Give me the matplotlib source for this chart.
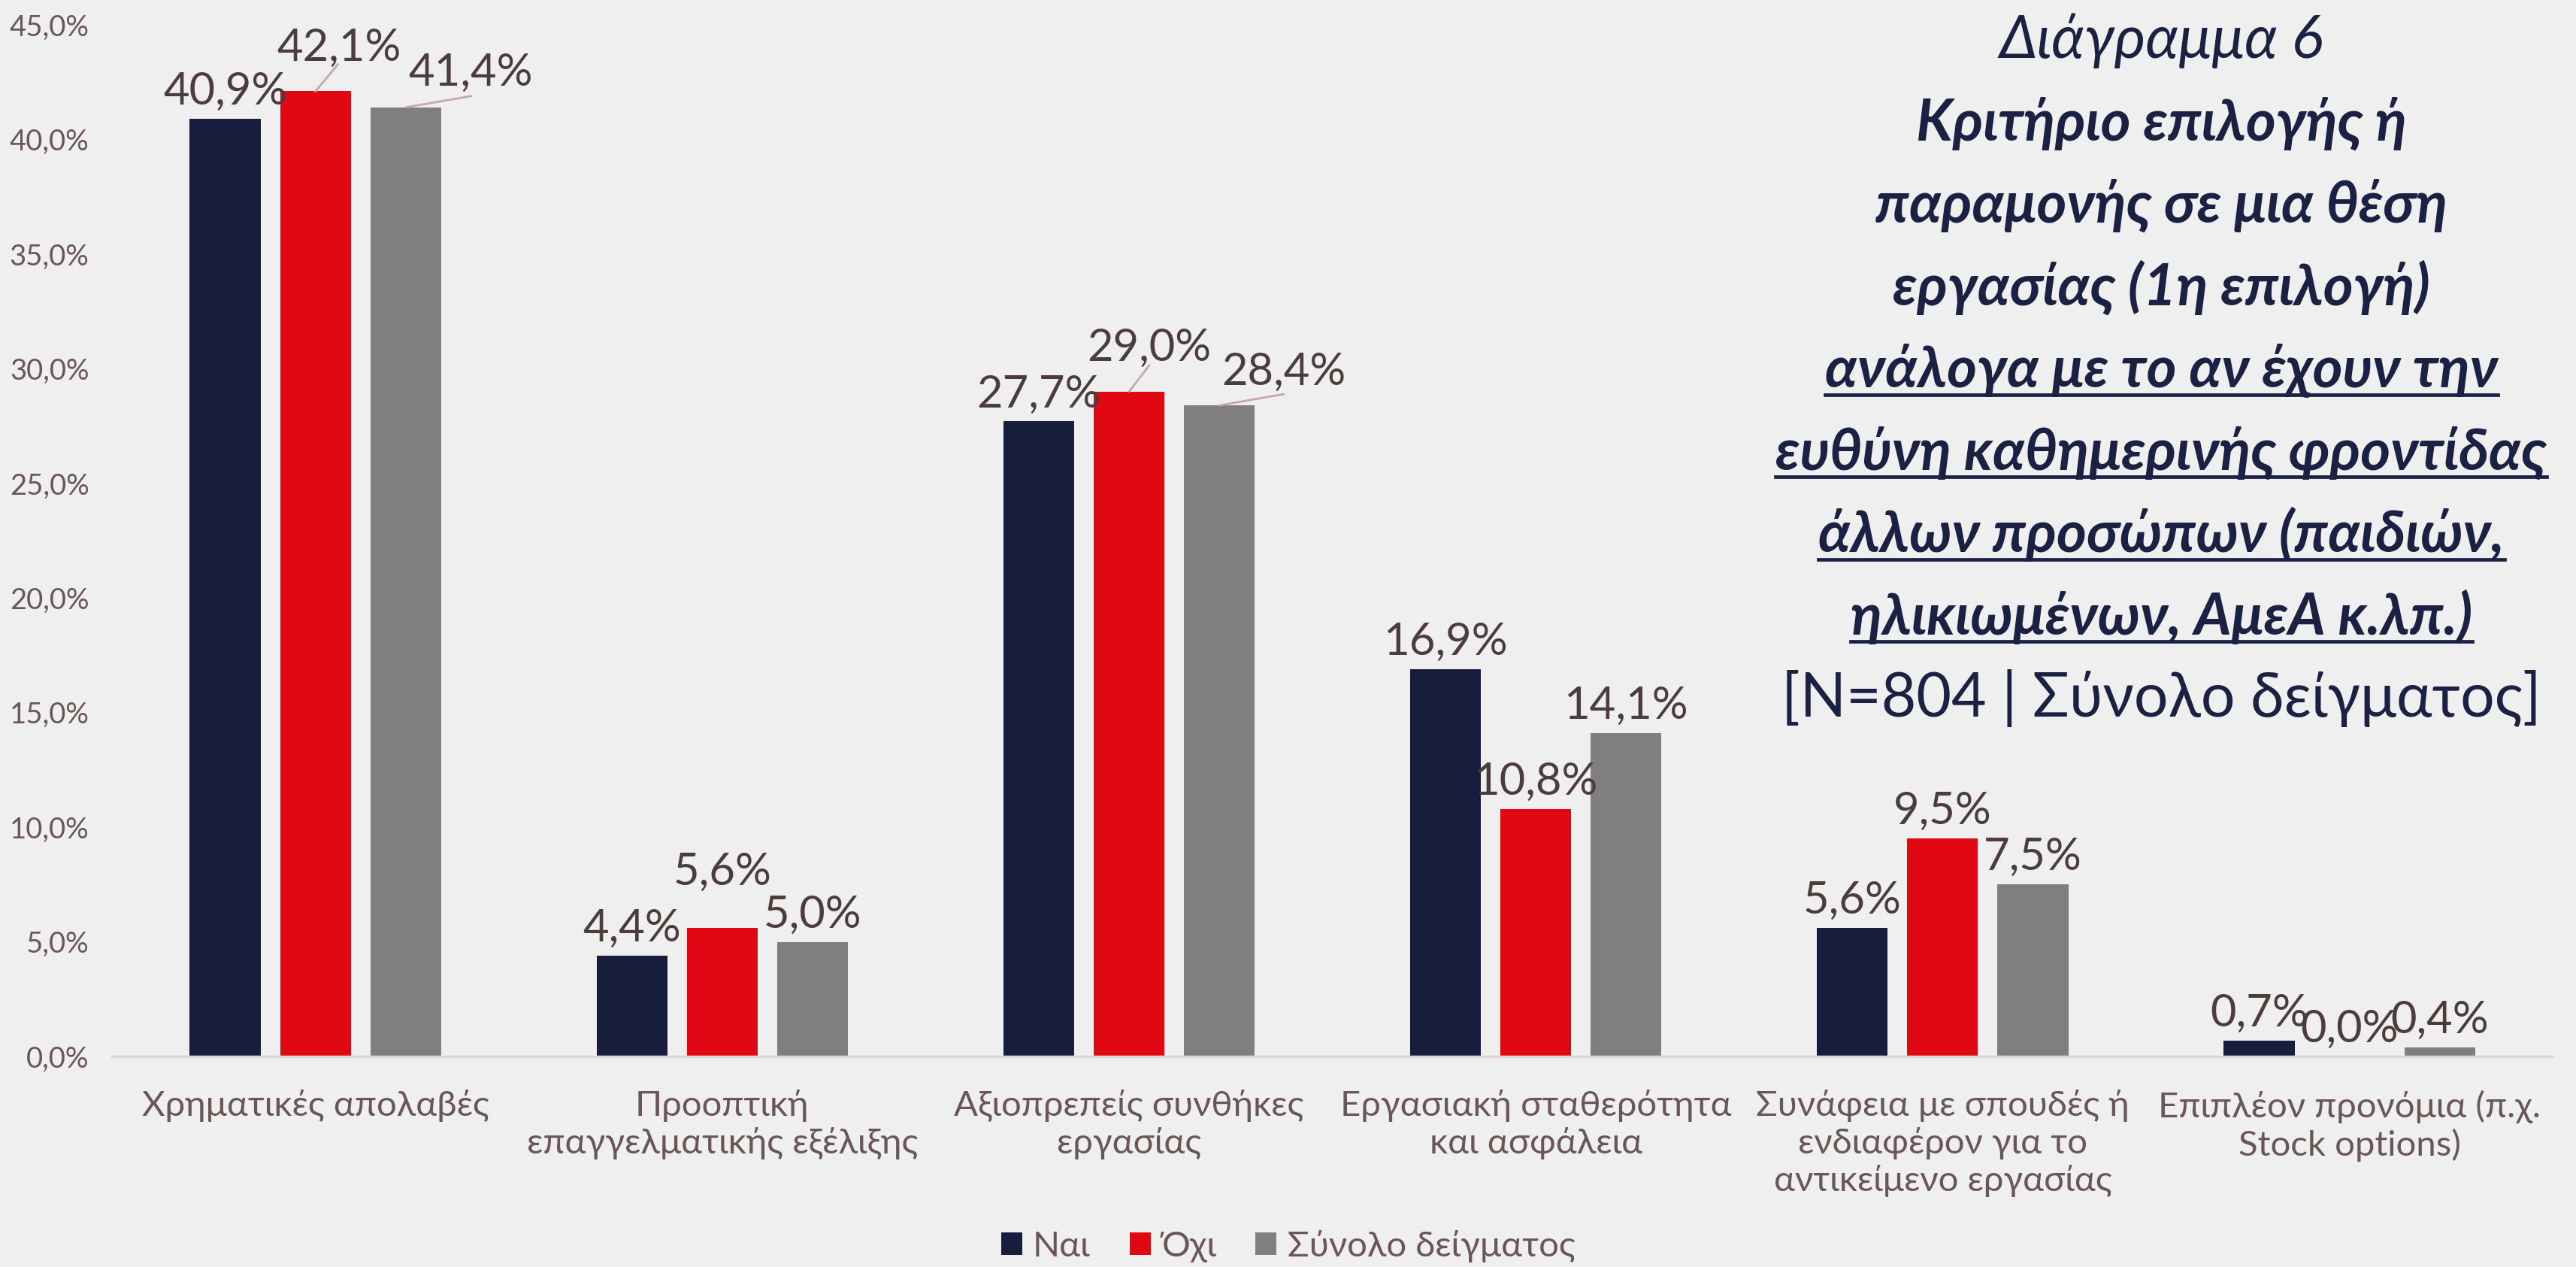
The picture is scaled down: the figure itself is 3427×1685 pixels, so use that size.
import numpy as np
import matplotlib
matplotlib.use("Agg")
import matplotlib.pyplot as plt
from matplotlib import font_manager
from matplotlib.ft2font import FT2Font
from matplotlib.lines import Line2D

# ---------------- data ----------------
categories = [
    "Χρηματικές απολαβές",
    "Προοπτική\nεπαγγελματικής εξέλιξης",
    "Αξιοπρεπείς συνθήκες\nεργασίας",
    "Εργασιακή σταθερότητα\nκαι ασφάλεια",
    "Συνάφεια με σπουδές ή\nενδιαφέρον για το\nαντικείμενο εργασίας",
    "Επιπλέον προνόμια (π.χ.\nStock options)",
]
series_names = ["Ναι", "Όχι", "Σύνολο δείγματος"]
nai = [40.9, 4.4, 27.7, 16.9, 5.6, 0.7]
oxi = [42.1, 5.6, 29.0, 10.8, 9.5, 0.0]
synolo = [41.4, 5.0, 28.4, 14.1, 7.5, 0.4]
yticks = [0, 5, 10, 15, 20, 25, 30, 35, 40, 45]

title_lines = [
    "Διάγραμμα 6",
    "Κριτήριο επιλογής ή",
    "παραμονής σε μια θέση",
    "εργασίας (1η επιλογή)",
    "ανάλογα με το αν έχουν την",
    "ευθύνη καθημερινής φροντίδας",
    "άλλων προσώπων (παιδιών,",
    "ηλικιωμένων, ΑμεΑ κ.λπ.)",
    "[N=804 | Σύνολο δείγματος]",
]

# ---------------- style ----------------
def has_greek(name):
    try:
        path = font_manager.findfont(name, fallback_to_default=False)
        f = FT2Font(path)
        return f.get_char_index(ord("α")) != 0
    except Exception:
        return False

main_font = "Lato" if has_greek("Lato") else "Open Sans"
FAM = [main_font, "DejaVu Sans"]
plt.rcParams["font.family"] = FAM

BG = "#efefef"
colors = ["#161d3d", "#e00812", "#7f7f7f"]
TICK_C = "#6a5656"
LABEL_C = "#4d3c3c"
TITLE_C = "#1a2142"
LEADER_C = "#c4a8a8"

W, H = 3427, 1685
DPI = 100
fig = plt.figure(figsize=(W / DPI, H / DPI), dpi=DPI, facecolor=BG)
ax = fig.add_axes([0.0435, 0.1662, 0.9475, 0.8142], facecolor=BG)

x = np.arange(len(categories))
width = 0.174
offs = [-0.222, 0.0, 0.222]
all_series = [nai, oxi, synolo]
bars = []
for s, (vals, c, off) in enumerate(zip(all_series, colors, offs)):
    b = ax.bar(x + off, vals, width, color=c, label=series_names[s], zorder=2)
    bars.append(b)

ax.set_xlim(-0.5, len(categories) - 0.5)
ax.set_ylim(0, 45)
ax.set_yticks(yticks)
ax.set_yticklabels([f"{t:.1f}%".replace(".", ",") for t in yticks],
                   fontsize=27.5, color=TICK_C)
ax.set_xticks(x)
ax.set_xticklabels(categories, fontsize=34, color=TICK_C, linespacing=1.2)
ax.tick_params(axis="y", length=0, pad=22)
ax.tick_params(axis="x", length=0, pad=32)
for sp in ["left", "right", "top"]:
    ax.spines[sp].set_visible(False)
ax.spines["bottom"].set_color("#e2d4d4")
ax.spines["bottom"].set_linewidth(2.5)

# data labels: offsets in pixels (label center), optional leader end
DEFAULT_OFF = (0, 36)
label_offsets = {
    (1, 0): ((31, 58), (30, 36)),
    (2, 0): ((86, 46), (87, 15)),
    (1, 2): ((27, 58), (27, 35)),
    (2, 2): ((86, 44), (86, 15)),
    (1, 1): ((0, 74), None),
}
for s, vals in enumerate(all_series):
    for g, v in enumerate(vals):
        xx = x[g] + offs[s]
        txt = f"{v:.1f}%".replace(".", ",")
        (tx, ty), lead = label_offsets.get((s, g), (DEFAULT_OFF, None))
        if lead is not None:
            ax.annotate("", xy=(xx, v), xytext=lead, textcoords="offset pixels",
                        arrowprops=dict(arrowstyle="-", color=LEADER_C, lw=2,
                                        shrinkA=0, shrinkB=0), zorder=3)
        ax.annotate(txt, xy=(xx, v), xytext=(tx, ty), textcoords="offset pixels",
                    ha="center", va="center", fontsize=43, color=LABEL_C, zorder=4)

# legend
leg = fig.legend(handles=[b for b in bars], labels=series_names, loc="center",
                 bbox_to_anchor=(0.5, 0.0166), ncol=3, frameon=False,
                 fontsize=34, handlelength=0.6, handleheight=0.6,
                 handletextpad=0.3, columnspacing=1.1)
for t in leg.get_texts():
    t.set_color(TICK_C)

# title block
cx = 0.839
base0 = 77
step = 109.5
styles = [
    dict(style="italic", weight="normal", fontsize=57),
    dict(style="italic", weight="bold", fontsize=55),
    dict(style="italic", weight="bold", fontsize=55),
    dict(style="italic", weight="bold", fontsize=55),
    dict(style="italic", weight="bold", fontsize=55),
    dict(style="italic", weight="bold", fontsize=55),
    dict(style="italic", weight="bold", fontsize=55),
    dict(style="italic", weight="bold", fontsize=55),
    dict(style="normal", weight="normal", fontsize=58),
]
underlined = {4, 5, 6, 7}
title_texts = []
for i, (line, st) in enumerate(zip(title_lines, styles)):
    ypx = base0 + step * i
    t = fig.text(cx, 1 - ypx / H, line, ha="center", va="baseline",
                 color=TITLE_C, family=FAM, **st)
    title_texts.append(t)

fig.canvas.draw()
r = fig.canvas.get_renderer()
for i in underlined:
    bb = title_texts[i].get_window_extent(r)
    ypx = base0 + step * i + 10
    yf = 1 - ypx / H
    fig.add_artist(Line2D([bb.x0 / W, bb.x1 / W], [yf, yf], color=TITLE_C, lw=3.4,
                          transform=fig.transFigure))

fig.savefig("out.png", dpi=DPI, facecolor=BG)
